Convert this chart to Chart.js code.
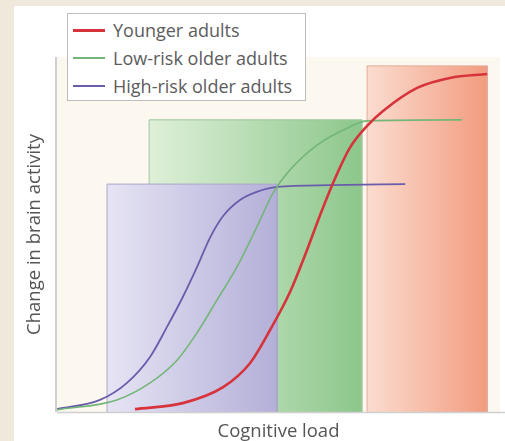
<!DOCTYPE html>
<html>
<head>
<meta charset="utf-8">
<script src="https://cdn.jsdelivr.net/npm/chart.js@4"></script>
<style>
  html, body { margin: 0; padding: 0; background: #efe8db; }
  #wrap { position: relative; width: 505px; height: 441px; }
  #legend {
    position: absolute; left: 67px; top: 13px; width: 239px; height: 88px;
    border: 1px solid #bdbdbd; background: #fff; box-sizing: border-box;
    font-family: "Open Sans", sans-serif; font-size: 18px; color: #5c5c5c;
    padding-top: 2px;
  }
  #legend .row { height: 28px; display: flex; align-items: center; }
  #legend .swatch { width: 32px; margin-left: 5px; margin-right: 8px; }
</style>
</head>
<body>
<div id="wrap">
  <canvas id="loadChart" width="505" height="441"></canvas>
  <div id="legend"></div>
</div>
<script>
// series (x = cognitive load, y = change in brain activity, both 0-100)
const seriesNames = ["Younger adults", "Low-risk older adults", "High-risk older adults"];

const youngX = [17.6, 28.4, 37.5, 43.6, 48.1, 52.6, 56.0, 59.4, 62.8, 66.1, 70.0, 73.6, 81.3, 88.7, 97.1];
const youngY = [0.8, 2.5, 7.0, 13.8, 23.1, 33.8, 44.2, 55.5, 65.9, 74.4, 80.6, 84.8, 91.3, 94.1, 95.2];

const lowRiskX = [0, 13.5, 21.0, 27.1, 31.6, 36.1, 40.6, 45.1, 48.8, 52.6, 58.7, 66.1, 70.0, 91.4];
const lowRiskY = [0.6, 3.4, 8.2, 14.6, 22.3, 31.5, 40.8, 52.1, 61.7, 68.2, 75.2, 80.3, 82.0, 82.3];

const highRiskX = [0, 9.7, 15.8, 21.0, 24.8, 28.4, 31.6, 34.5, 37.5, 41.3, 45.1, 49.7, 61.6, 78.6];
const highRiskY = [0.8, 3.4, 8.2, 15.5, 23.9, 32.4, 40.8, 49.0, 55.2, 59.7, 62.0, 63.4, 63.9, 64.2];

// shaded zones: young, low-risk, high-risk
const zoneStart = [70.0, 20.8, 11.3];
const zoneEnd = [97.1, 68.8, 49.7];
const zoneTop = [97.5, 82.3, 64.2];

const lineColors = ["#d6333b", "#74b678", "#6a5cab"];
const lineWidths = [2.6, 1.6, 1.8];
const zoneColors = [["#fbdccf", "#f29c7f"], ["#dff0d9", "#8cc78b"], ["#e6e4f4", "#b3afd8"]];
const zoneBorders = ["#e3a995", "#9cc49a", "#a9a6c8"];

function pts(xs, ys) {
  return xs.map((x, i) => ({ x: x, y: ys[i] }));
}

function zoneGradient(i) {
  return (ctx) => {
    const chart = ctx.chart;
    if (!chart.chartArea) return zoneColors[i][1];
    const xs = chart.scales.x;
    const g = chart.ctx.createLinearGradient(xs.getPixelForValue(zoneStart[i]), 0, xs.getPixelForValue(zoneEnd[i]), 0);
    g.addColorStop(0, zoneColors[i][0]);
    g.addColorStop(1, zoneColors[i][1]);
    return g;
  };
}

const datasets = [];
[youngX, lowRiskX, highRiskX].forEach((xs, i) => {
  const ys = [youngY, lowRiskY, highRiskY][i];
  datasets.push({
    label: seriesNames[i],
    data: pts(xs, ys),
    showLine: true,
    borderColor: lineColors[i],
    borderWidth: lineWidths[i],
    pointRadius: 0,
    cubicInterpolationMode: "monotone",
    fill: false,
    order: i
  });
});
zoneStart.forEach((x0, i) => {
  datasets.push({
    label: "zone " + i,
    data: [{ x: x0, y: 0 }, { x: x0, y: zoneTop[i] }, { x: zoneEnd[i], y: zoneTop[i] }, { x: zoneEnd[i], y: 0 }],
    showLine: true,
    tension: 0,
    pointRadius: 0,
    borderColor: zoneBorders[i],
    borderWidth: 1,
    backgroundColor: zoneGradient(i),
    fill: "origin",
    order: 5 - i
  });
});

// page frame and cream plot background
const framePlugin = {
  id: "frame",
  beforeDraw(chart) {
    const c = chart.ctx;
    const a = chart.chartArea;
    c.save();
    c.fillStyle = "#efe8db";
    c.fillRect(0, 0, chart.width, chart.height);
    c.fillStyle = "#ffffff";
    c.fillRect(14, 6, chart.width - 14, chart.height - 6);
    c.fillStyle = "#fdf8ef";
    c.fillRect(a.left, a.top, a.right - a.left, a.bottom - a.top);
    c.restore();
  },
  afterDraw(chart) {
    const c = chart.ctx;
    const a = chart.chartArea;
    c.save();
    c.strokeStyle = "#cfcfcf";
    c.lineWidth = 1.5;
    c.beginPath();
    c.moveTo(a.left, a.bottom + 0.5);
    c.lineTo(chart.width, a.bottom + 0.5);
    c.stroke();
    c.lineWidth = 2;
    c.beginPath();
    c.moveTo(a.left - 1, a.top);
    c.lineTo(a.left - 1, a.bottom);
    c.stroke();
    c.restore();
  }
};

const chart = new Chart(document.getElementById("loadChart"), {
  type: "scatter",
  data: { datasets: datasets },
  options: {
    responsive: false,
    animation: false,
    layout: { padding: { left: 20, top: 57, right: 5, bottom: 0 } },
    plugins: { legend: { display: false }, tooltip: { enabled: false } },
    scales: {
      x: {
        min: 0, max: 100,
        ticks: { display: false },
        grid: { display: false, drawTicks: false, tickLength: 0 },
        border: { display: false },
        title: {
          display: true, text: "Cognitive load", color: "#555",
          font: { family: "Open Sans", size: 18.5, lineHeight: 1 },
          padding: { top: 10.5, bottom: 0 }
        }
      },
      y: {
        min: 0, max: 100,
        ticks: { display: false },
        grid: { display: false, drawTicks: false, tickLength: 0 },
        border: { display: false },
        title: {
          display: true, text: "Change in brain activity", color: "#555",
          font: { family: "Open Sans", size: 18.5, lineHeight: 1 },
          padding: { top: 5.5, bottom: 13 }
        }
      }
    }
  },
  plugins: [framePlugin]
});

// legend box built from the series
const legendEl = document.getElementById("legend");
seriesNames.forEach((name, i) => {
  const row = document.createElement("div");
  row.className = "row";
  const sw = document.createElement("span");
  sw.className = "swatch";
  sw.style.height = (i === 0 ? 3 : 2) + "px";
  sw.style.background = lineColors[i];
  const label = document.createElement("span");
  label.textContent = name;
  row.appendChild(sw);
  row.appendChild(label);
  legendEl.appendChild(row);
});
</script>
</body>
</html>
